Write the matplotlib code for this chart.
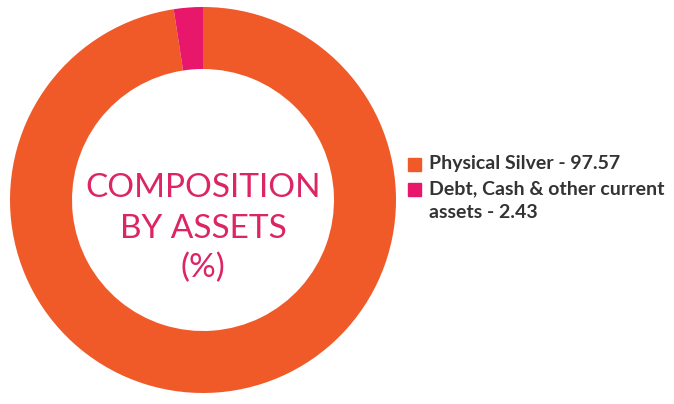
import matplotlib
matplotlib.use("Agg")
import matplotlib.pyplot as plt
from matplotlib.patches import Rectangle

labels = ["Physical Silver - 97.57", "Debt, Cash & other current\nassets - 2.43"]
values = [97.57, 2.43]
colors = ["#F05A28", "#E8176B"]

W, H = 674, 404
fig = plt.figure(figsize=(W / 100, H / 100), dpi=100)
cx, cy, r = 203, 200, 193
ax = fig.add_axes([(cx - r) / W, (H - cy - r) / H, 2 * r / W, 2 * r / H])
ax.pie(values, colors=colors, startangle=90, counterclock=False,
       radius=1.0, wedgeprops=dict(width=62 / 193, edgecolor="none"))
ax.set_xlim(-1, 1)
ax.set_ylim(-1, 1)
ax.set_aspect("equal")
ax.axis("off")

pink = "#DD2464"
for txt, y in zip(["COMPOSITION", "BY ASSETS", "(%)"], [188, 229, 268]):
    fig.text(cx / W, 1 - y / H, txt, ha="center", va="center",
             fontsize=24, color=pink, family="Lato", fontweight="normal")

# legend
fs = 14
fig.patches.append(Rectangle((408 / W, 1 - 171 / H), 13 / W, 13 / H,
                             transform=fig.transFigure, color=colors[0], figure=fig))
fig.patches.append(Rectangle((408 / W, 1 - 196 / H), 13 / W, 13 / H,
                             transform=fig.transFigure, color=colors[1], figure=fig))
fig.text(429 / W, 1 - 164 / H, labels[0], ha="left", va="center", fontsize=fs,
         fontweight="bold", family="Lato", color="#333333")
line1, line2 = labels[1].split("\n")
fig.text(429 / W, 1 - 189 / H, line1, ha="left", va="center", fontsize=fs,
         fontweight="bold", family="Lato", color="#333333")
fig.text(429 / W, 1 - 213 / H, line2, ha="left", va="center", fontsize=fs,
         fontweight="bold", family="Lato", color="#333333")

fig.savefig("out.png", dpi=100, facecolor="white")
